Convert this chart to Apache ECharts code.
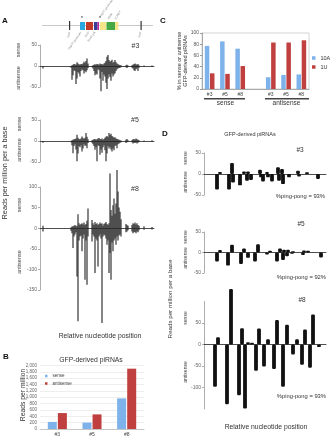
<!DOCTYPE html>
<html>
<head>
<meta charset="utf-8">
<script src="https://cdn.jsdelivr.net/npm/echarts@6/dist/echarts.min.js"></script>
<style>
html, body { margin: 0; padding: 0; background: #fff; }
#main { width: 330px; height: 440px; }
</style>
</head>
<body>
<div id="main"></div>
<script>
// A: piRNA reads along the GFP transgene (relative position, reads per million per base)
var posA = [3, 31, 32, 33, 34, 35, 36, 37, 38, 39, 40, 41, 42, 43, 44, 45, 46, 47, 48,
    52, 53, 54, 55, 56, 57, 58, 59, 60, 61, 62, 63, 64, 65, 66, 67, 68, 69, 70, 71, 72, 73, 74, 75, 76, 77, 78, 79, 80, 81,
    86, 87, 88, 92, 93, 94, 95, 96, 97, 98, 99, 104, 112];

var a3Sense = [0, 0, 2, 3, 5, 4, 3, 9, 6, 4, 3, 5, 4, 6, 10, 8, 12, 18, 6,
    0, 2, 3, 4, 3, 5, 4, 3, 6, 4, 5, 3, 6, 8, 12, 22, 26, 14, 10, 12, 15, 8, 10, 14, 9, 6, 4, 3, 2, 2,
    2, 3, 1, 2, 3, 5, 6, 4, 3, 5, 2, 1, 1];
var a3Anti = [-6, -4, -33, -22, -10, -12, -43, -30, -14, -18, -25, -12, -8, -10, -18, -12, -15, -10, -5,
    -3, -6, -12, -22, -18, -20, -8, -10, -30, -60, -14, -35, -20, -25, -40, -55, -30, -20, -26, -35, -18, -25, -20, -17, -12, -8, -6, -5, -4, -3,
    -3, -5, -2, -4, -6, -10, -12, -8, -6, -12, -4, -2, -2];

var a5Sense = [0, 0, 2, 3, 4, 5, 6, 15, 8, 5, 4, 6, 11, 7, 5, 8, 19, 10, 4,
    2, 3, 4, 5, 3, 4, 6, 7, 5, 4, 6, 3, 5, 8, 10, 12, 9, 19, 14, 17, 12, 10, 8, 9, 6, 5, 4, 3, 2, 1,
    3, 5, 2, 2, 4, 5, 3, 6, 4, 3, 2, 1, 2];
var a5Anti = [-4, -3, -10, -29, -12, -8, -20, -48, -30, -12, -15, -10, -25, -18, -8, -12, -10, -17, -5,
    -4, -8, -12, -21, -15, -48, -10, -12, -33, -20, -28, -15, -10, -22, -48, -30, -12, -18, -14, -20, -25, -18, -22, -12, -10, -17, -8, -6, -4, -3,
    -5, -3, -2, -3, -6, -4, -5, -3, -6, -4, -2, -1, -2];

var a8Sense = [6, 2, 4, 5, 6, 8, 5, 6, 34, 12, 8, 10, 12, 9, 14, 8, 10, 18, 48,
    20, 12, 8, 15, 10, 12, 8, 10, 14, 10, 12, 6, 10, 12, 15, 10, 8, 12, 133, 44, 30, 56, 72, 35, 60, 141, 89, 50, 40, 22,
    10, 8, 6, 8, 12, 10, 14, 9, 12, 8, 6, 5, 3];
var a8Anti = [-8, -6, -12, -48, -20, -15, -10, -117, -226, -30, -20, -18, -56, -25, -15, -125, -30, -137, -20,
    -32, -15, -20, -109, -25, -30, -93, -20, -15, -25, -230, -20, -15, -18, -25, -40, -30, -109, -60, -125, -35, -56, -30, -25, -40, -20, -30, -18, -15, -20,
    -10, -8, -5, -8, -12, -10, -9, -12, -8, -10, -5, -4, -3];

// B: total GFP-derived piRNAs
var bCats = ['#3', '#5', '#8'];
var bSense = [223, 201, 963];
var bAnti = [502, 460, 1900];

// C: 1U / 10A bias
var cCats = ['#3', '#5', '#8', '', '#3', '#5', '#8'];
var c10A = [77, 85, 72, null, 21, 25, 26];
var c1U = [28, 27, 41, null, 83, 83, 87];

// D: ping-pong pairs
var d3Pos = [13, 16, 25, 28, 29, 36, 40, 43, 44, 47, 56, 57, 59, 63, 64, 68, 74, 75, 78, 79, 85, 94, 95, 103, 114];
var d3Val = [-37, 5, -37, 26, -20, -27, 6, -16, 6, -14, 10, -8, -18, 5, -8, -18, 16, -16, 12, -24, -8, 8, -6, 4, -12];
var d5Pos = [13, 16, 24, 28, 37, 40, 44, 51, 54, 63, 66, 73, 76, 79, 80, 83, 84, 88, 89, 99, 100, 104, 117];
var d5Val = [-22, 6, -32, 19, -28, 10, -13, -22, 20, -5, 4, -22, 10, -18, 7, -9, 7, -3, 3, -6, 5, 4, -12];
var d8Pos = [11, 14, 23, 27, 35, 38, 41, 44, 48, 52, 55, 60, 64, 70, 73, 79, 83, 89, 93, 98, 101, 106, 109, 115];
var d8Val = [-98, 17, -139, 129, -118, 38, -149, 5, 4, -61, 37, -51, 12, -57, 57, -98, 46, -23, 12, -47, 35, -54, 70, -6];

var FONT = 'Liberation Sans, Arial, Helvetica, sans-serif';
var BLUE = '#7db2ea';
var RED = '#c0403f';

function zip(xs, ys) {
    return xs.map(function (x, i) { return [x, ys[i]] });
}

function posAxis(g, max) {
    return {
        type: 'value', gridIndex: g, min: 0, max: max,
        axisLine: {onZero: true, lineStyle: {color: '#222', width: 0.8}},
        axisTick: {show: false}, axisLabel: {show: false}, splitLine: {show: false}
    };
}

function readAxis(g, min, max, vals) {
    var ax = {
        type: 'value', gridIndex: g, min: min, max: max, interval: 50,
        axisLine: {show: true, lineStyle: {color: '#999', width: 0.8}},
        axisTick: {show: true, length: 2, lineStyle: {color: '#999', width: 0.8}},
        axisLabel: {fontSize: 5, color: '#666', margin: 3, fontFamily: FONT},
        splitLine: {show: false}
    };
    if (vals) {
        ax.axisLabel.customValues = vals;
        ax.axisTick.customValues = vals;
    }
    return ax;
}

function spikes(g, data) {
    return {
        type: 'bar', xAxisIndex: g, yAxisIndex: g, data: data,
        barWidth: 1.1, barGap: '-100%', clip: false, silent: true,
        itemStyle: {color: '#222'}
    };
}

// thick ping-pong bars, drawn from the axes' own coordinates
function renderPair(params, api) {
    var tip = api.coord([api.value(0), api.value(1)]);
    var base = api.coord([api.value(0), 0]);
    var w = 3.8;
    return {
        type: 'rect',
        shape: {x: base[0] - w / 2, y: Math.min(tip[1], base[1]), width: w, height: Math.abs(tip[1] - base[1]), r: 1.2},
        style: {fill: '#111'}
    };
}

function pairs(g, data) {
    return {
        type: 'custom', xAxisIndex: g, yAxisIndex: g, data: data, silent: true,
        renderItem: renderPair
    };
}

function txt(x, y, s, size, o) {
    o = o || {};
    return {
        type: 'text', x: x, y: y, rotation: o.rot || 0, silent: true,
        style: {
            text: s, fontSize: size, fill: o.color || '#333', fontFamily: FONT,
            align: o.align || 'center', verticalAlign: 'middle',
            fontWeight: o.bold ? 'bold' : 'normal', lineHeight: o.lh
        }
    };
}

function box(x, y, w, h, fill) {
    return {type: 'rect', silent: true, shape: {x: x, y: y, width: w, height: h}, style: {fill: fill}};
}

var R = Math.PI / 2;
var G = '#444';

var graphics = [
    // panel letters
    txt(5, 20.5, 'A', 8, {bold: true, color: '#111'}),
    txt(163, 20.5, 'C', 8, {bold: true, color: '#111'}),
    txt(6, 357, 'B', 8, {bold: true, color: '#111'}),
    txt(165, 134, 'D', 8, {bold: true, color: '#111'}),

    // transgene diagram
    {type: 'line', silent: true, shape: {x1: 42, y1: 25.5, x2: 153, y2: 25.5}, style: {stroke: '#bbb', lineWidth: 0.8}},
    box(69, 21, 1.2, 9, '#333'), box(140.5, 21, 1.2, 9, '#333'),
    box(80, 22, 5, 8, '#29a8df'), box(86, 22, 7, 8, '#c23a2c'), box(94, 22, 3.6, 8, '#3b3c94'),
    box(97.6, 22, 1.4, 8, '#c02aa0'), box(100, 22, 6, 8, '#f4e58a'), box(106.5, 22, 8.5, 8, '#44a845'),
    box(115, 22, 3.3, 8, '#f4e58a'),
    txt(82, 18.5, '*', 5, {color: '#111'}), txt(100, 19, '*', 5, {color: '#111'}),
    txt(70, 32, 'loxP', 3, {color: '#888', align: 'right', rot: 1.2}),
    txt(141, 32, 'loxP', 3, {color: '#888', align: 'right', rot: 1.2}),
    txt(81, 32, 'Hsp70 promoter', 3, {color: '#888', align: 'right', rot: 0.95}),
    txt(89, 32, 'GFP', 3, {color: '#888', align: 'right', rot: 0.95}),
    txt(95, 32, 'SV40 pA', 3, {color: '#888', align: 'right', rot: 0.95}),
    txt(100, 17, 'Hsp70 promoter', 3, {color: '#888', align: 'left', rot: 0.95}),
    txt(108, 19, 'white', 3, {color: '#888', align: 'left', rot: 0.95}),
    txt(115, 19, 'pUAST', 3, {color: '#888', align: 'left', rot: 0.95}),

    // A labels
    txt(135.5, 46, '#3', 7), txt(135, 120, '#5', 7), txt(135, 189, '#8', 7),
    txt(18, 50, 'sense', 5.5, {rot: R, color: G}), txt(18, 78, 'antisense', 5.5, {rot: R, color: G}),
    txt(19, 124, 'sense', 5.5, {rot: R, color: G}), txt(19, 150, 'antisense', 5.5, {rot: R, color: G}),
    txt(19, 205, 'sense', 5.5, {rot: R, color: G}), txt(19, 262, 'antisense', 5.5, {rot: R, color: G}),
    txt(5, 173, 'Reads per million per a base', 7.3, {rot: R}),
    txt(100, 336, 'Relative nucleotide position', 6.8),

    // B labels
    txt(91, 360, 'GFP-derived piRNAs', 6.8),
    txt(23, 395, 'Reads per million', 6.8, {rot: R}),

    // C labels
    txt(182.5, 61, '% in sense or antisense\nGFP-derived piRNAs', 5.5, {rot: R, lh: 6.5}),
    box(204, 98, 41, 1.6, '#444'), box(265, 98, 44, 1.6, '#444'),
    txt(225.5, 103.5, 'sense', 6.5), txt(286.5, 103.5, 'antisense', 6.5),

    // D labels
    txt(250, 134, 'GFP-derived piRNAs', 5.5),
    txt(300, 150, '#3', 6.5), txt(301, 224.5, '#5', 6.5), txt(302, 300, '#8', 6.5),
    txt(325, 196, '%ping-pong = 93%', 5.8, {align: 'right'}),
    txt(326, 277, '%ping-pong = 92%', 5.8, {align: 'right'}),
    txt(326, 396, '%ping-pong = 93%', 5.8, {align: 'right'}),
    txt(186, 158, 'sense', 5, {rot: R, color: G}), txt(186, 182, 'antisense', 5, {rot: R, color: G}),
    txt(186, 237, 'sense', 5, {rot: R, color: G}), txt(186, 258, 'antisense', 5, {rot: R, color: G}),
    txt(186, 318, 'sense', 5, {rot: R, color: G}), txt(186, 372, 'antisense', 5, {rot: R, color: G}),
    txt(170, 299, 'Reads per million per a base', 6.2, {rot: R}),
    txt(266, 427, 'Relative nucleotide position', 6.8)
];

var myChart = echarts.init(document.getElementById('main'), null, {renderer: 'canvas'});

var option = {
    animation: false,
    textStyle: {fontFamily: FONT},
    grid: [
        {left: 40, top: 45, width: 114, height: 42, outerBoundsMode: 'none'},
        {left: 40, top: 120, width: 114, height: 42, outerBoundsMode: 'none'},
        {left: 40, top: 187, width: 114, height: 103, outerBoundsMode: 'none'},
        {left: 40, top: 365.5, width: 104, height: 63.5, outerBoundsMode: 'none'},
        {left: 202, top: 33, width: 107, height: 56, show: true, borderColor: '#c8c8c8', borderWidth: 0.8, outerBoundsMode: 'none'},
        {left: 204, top: 153, width: 122, height: 42, outerBoundsMode: 'none'},
        {left: 204, top: 232, width: 122, height: 41, outerBoundsMode: 'none'},
        {left: 204, top: 301.5, width: 122, height: 107.5, outerBoundsMode: 'none'}
    ],
    xAxis: [
        posAxis(0, 114), posAxis(1, 114), posAxis(2, 114),
        {
            type: 'category', gridIndex: 3, data: bCats,
            axisLine: {lineStyle: {color: '#bbb', width: 0.8}}, axisTick: {show: false},
            axisLabel: {fontSize: 5, color: '#444', margin: 3}
        },
        {
            type: 'category', gridIndex: 4, data: cCats,
            axisLine: {lineStyle: {color: '#999', width: 0.8}}, axisTick: {show: false},
            axisLabel: {fontSize: 5, color: '#444', margin: 3, interval: 0}
        },
        posAxis(5, 122), posAxis(6, 122), posAxis(7, 122)
    ],
    yAxis: [
        readAxis(0, -50, 50), readAxis(1, -50, 50), readAxis(2, -150, 100),
        {
            type: 'value', gridIndex: 3, min: 0, max: 2000, interval: 200,
            axisLine: {show: false}, axisTick: {show: false},
            axisLabel: {fontSize: 4.5, color: '#666', margin: 3},
            splitLine: {lineStyle: {color: '#e2e2e2', width: 0.6}}
        },
        {
            type: 'value', gridIndex: 4, min: 0, max: 100, interval: 20,
            axisLine: {show: true, lineStyle: {color: '#999', width: 0.8}},
            axisTick: {show: true, length: 2, lineStyle: {color: '#999'}},
            axisLabel: {fontSize: 5, color: '#555', margin: 3},
            splitLine: {show: false}
        },
        readAxis(5, -50, 50), readAxis(6, -50, 50), readAxis(7, -150, 100, [50, 0, -50, -100])
    ],
    legend: [
        {
            data: ['sense', 'antisense'], left: 45, top: 373.5, orient: 'vertical', padding: 0,
            itemWidth: 2.5, itemHeight: 2.5, itemGap: 2.5, icon: 'rect', selectedMode: false,
            textStyle: {fontSize: 4.5, color: '#444'}
        },
        {
            data: ['10A', '1U'], left: 312, top: 55, orient: 'vertical', padding: 0,
            itemWidth: 3.5, itemHeight: 3.5, itemGap: 3, icon: 'rect', selectedMode: false,
            textStyle: {fontSize: 5.5, color: '#333'}
        }
    ],
    series: [
        spikes(0, zip(posA, a3Sense)), spikes(0, zip(posA, a3Anti)),
        spikes(1, zip(posA, a5Sense)), spikes(1, zip(posA, a5Anti)),
        spikes(2, zip(posA, a8Sense)), spikes(2, zip(posA, a8Anti)),
        {name: 'sense', type: 'bar', xAxisIndex: 3, yAxisIndex: 3, data: bSense, barWidth: 9, barGap: '12%', itemStyle: {color: BLUE}},
        {name: 'antisense', type: 'bar', xAxisIndex: 3, yAxisIndex: 3, data: bAnti, barWidth: 9, barGap: '12%', itemStyle: {color: RED}},
        {name: '10A', type: 'bar', xAxisIndex: 4, yAxisIndex: 4, data: c10A, barWidth: 4.5, barGap: '15%', itemStyle: {color: BLUE}},
        {name: '1U', type: 'bar', xAxisIndex: 4, yAxisIndex: 4, data: c1U, barWidth: 4.5, barGap: '15%', itemStyle: {color: RED}},
        pairs(5, zip(d3Pos, d3Val)), pairs(6, zip(d5Pos, d5Val)), pairs(7, zip(d8Pos, d8Val))
    ],
    graphic: graphics
};

myChart.setOption(option);
</script>
</body>
</html>
